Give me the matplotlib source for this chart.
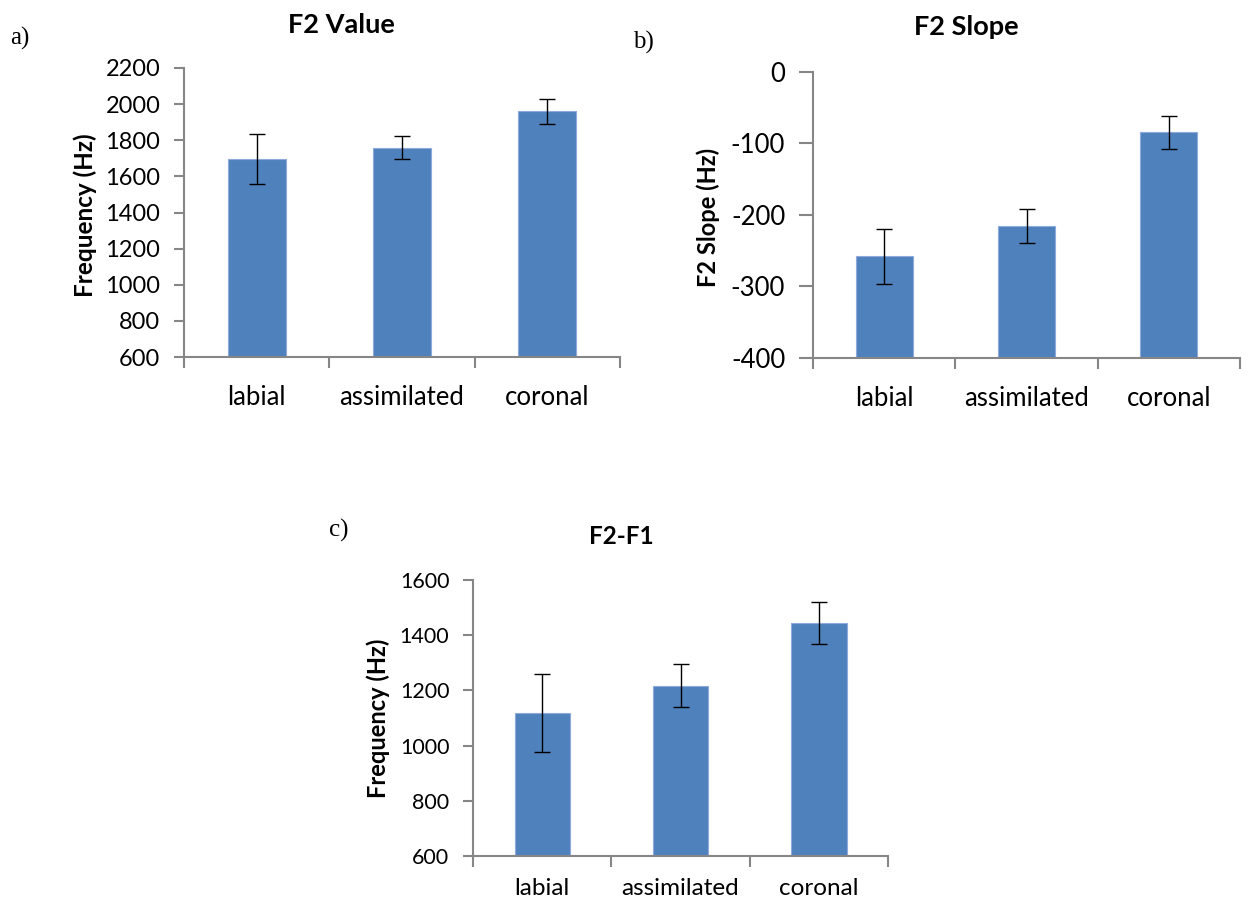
import numpy as np
import matplotlib
matplotlib.use('Agg')
import matplotlib.pyplot as plt

categories = ['labial', 'assimilated', 'coronal']

# a) F2 value (Hz)
f2_value = [1695, 1758, 1960]
f2_value_err = [137, 64, 68]

# b) F2 slope (Hz)
f2_slope = [-258, -215, -84]
f2_slope_err = [38, 24, 23]

# c) F2-F1 (Hz)
f2_f1 = [1118, 1217, 1445]
f2_f1_err = [142, 77, 77]

plt.rcParams['font.family'] = ['Lato', 'DejaVu Sans']

W, H = 1251, 901
fig = plt.figure(figsize=(W / 100, H / 100), dpi=100)

bar_col = '#4F81BD'
axis_col = '#868686'


def px_axes(left, top, right, bottom):
    return fig.add_axes([left / W, 1 - bottom / H, (right - left) / W, (bottom - top) / H])


def draw_panel(ax, vals, errs, ylim, yticks, tick_fs, cat_fs, cat_pad, ytick_len=7):
    x = np.arange(len(categories))
    base = ylim[0]
    # Excel draws the bars up from the bottom of the axis
    ax.bar(x, np.array(vals) - base, bottom=base, width=0.4, color=bar_col,
           edgecolor='#8EAADB', linewidth=0.8, zorder=2)
    ax.errorbar(x, vals, yerr=errs, fmt='none', ecolor='black', elinewidth=1,
                capsize=5.5, capthick=1, zorder=3)
    ax.set_xlim(-0.5, len(categories) - 0.5)
    ax.set_ylim(*ylim)
    ax.set_yticks(yticks)
    ax.set_yticklabels([str(t) for t in yticks])
    # category boundary ticks, labels in the middle
    ax.set_xticks(np.arange(len(categories) + 1) - 0.5)
    ax.set_xticks(x, minor=True)
    ax.set_xticklabels([''] * (len(categories) + 1))
    ax.set_xticklabels(categories, minor=True)
    ax.tick_params(axis='x', which='major', length=8, width=1.5, color=axis_col)
    ax.tick_params(axis='x', which='minor', length=0, pad=cat_pad, labelsize=cat_fs)
    ax.tick_params(axis='y', length=ytick_len, width=1.5, color=axis_col, pad=10, labelsize=tick_fs)
    for s in ['top', 'right']:
        ax.spines[s].set_visible(False)
    for s in ['left', 'bottom']:
        ax.spines[s].set_color(axis_col)
        ax.spines[s].set_linewidth(1.5)


# a)
ax1 = px_axes(184, 68, 620, 357)
draw_panel(ax1, f2_value, f2_value_err, (600, 2200), list(range(600, 2201, 200)), 17, 18.5, 20)

# b)
ax2 = px_axes(813, 72, 1240, 358)
draw_panel(ax2, f2_slope, f2_slope_err, (-400, 0), [-400, -300, -200, -100, 0], 18.5, 18.5, 20,
           ytick_len=10)

# c)
ax3 = px_axes(473, 580, 888, 856)
draw_panel(ax3, f2_f1, f2_f1_err, (600, 1600), list(range(600, 1601, 200)), 15.5, 17.5, 16)

# titles
fig.text(341 / W, 1 - 25 / H, 'F2 Value', ha='center', va='center', fontsize=19.5, fontweight='bold')
fig.text(966 / W, 1 - 27 / H, 'F2 Slope', ha='center', va='center', fontsize=19.5, fontweight='bold')
fig.text(621 / W, 1 - 537 / H, 'F2-F1', ha='center', va='center', fontsize=17.5, fontweight='bold')

# y labels
fig.text(85 / W, 1 - 215 / H, 'Frequency (Hz)', rotation=90, ha='center', va='center',
         fontsize=17.5, fontweight='bold')
fig.text(708 / W, 1 - 217 / H, 'F2 Slope (Hz)', rotation=90, ha='center', va='center',
         fontsize=17, fontweight='bold')
fig.text(378 / W, 1 - 718 / H, 'Frequency (Hz)', rotation=90, ha='center', va='center',
         fontsize=17, fontweight='bold')

# panel letters
serif = ['Liberation Serif', 'DejaVu Serif']
fig.text(10 / W, 1 - 38 / H, 'a)', ha='left', va='center', fontsize=18, family=serif)
fig.text(633 / W, 1 - 42 / H, 'b)', ha='left', va='center', fontsize=18, family=serif)
fig.text(329 / W, 1 - 530 / H, 'c)', ha='left', va='center', fontsize=18, family=serif)

fig.savefig('out.png', dpi=100)
